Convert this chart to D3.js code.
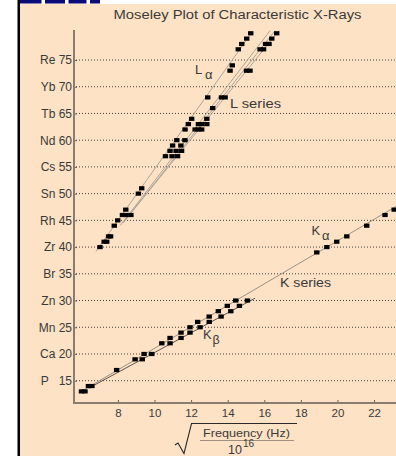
<!DOCTYPE html>
<html><head><meta charset="utf-8">
<script src="https://cdn.jsdelivr.net/npm/d3@7"></script>
<style>body{margin:0;background:#fff} svg{display:block}</style>
</head><body><svg id="c" width="396" height="456"></svg>
<script>
// ---- data ----
const yTickValues   = [15,20,25,30,35,40,45,50,55,60,65,70,75];
const yTickElements = ["P\u00a0\u00a0","Ca","Mn","Zn","Br","Zr","Rh","Sn","Cs","Nd","Tb","Yb","Re"];
const xTickValues   = [8,10,12,14,16,18,20,22];

const kAlphaZ = [13,14,17,19,20,22,23,24,25,26,27,28,29,30,39,40,41,42,44,46,47];
const kAlphaV = [6.01,6.39,7.93,8.94,9.43,10.40,10.85,11.45,11.94,12.36,12.99,13.49,13.98,14.44,18.87,19.42,19.96,20.51,21.6,22.6,23.1];
const kBetaZ  = [13,14,19,20,22,23,24,25,26,27,28,29,30];
const kBetaV  = [6.20,6.58,9.33,9.85,10.85,11.45,11.94,12.49,12.99,13.64,14.17,14.64,15.08];

const lAlphaZ = [40,41,42,44,45,46,47,50,51,57,58,59,60,62,63,64,68,73,74,77,78,79,80];
const lAlphaV = [7.02,7.25,7.49,7.80,7.99,8.25,8.43,9.12,9.30,10.60,10.85,10.99,11.22,11.67,11.85,12.03,12.91,14.13,14.25,14.58,14.77,15.04,15.26];
const lOtherZ = [41,42,46,46,57,57,58,58,59,60,62,62,62,63,63,63,64,66,68,68,73,73,77,77,78,78,79,80];
const lOtherV = [7.39,7.60,8.44,8.71,10.96,11.26,11.18,11.48,11.44,11.66,12.22,12.40,12.58,12.40,12.58,12.86,12.86,13.18,13.66,13.86,15.03,15.22,15.77,15.96,16.07,16.26,16.41,16.68];

// fitted lines (start/end in data units): K-alpha, K-beta, L-alpha, L-beta lines
const fitV0 = [6.10, 6.40, 6.80, 8.12, 8.28, 8.39];
const fitZ0 = [13.2, 13.6, 39.2, 44.0, 44.5, 45.0];
const fitV1 = [23.2, 15.5, 15.33, 16.32, 16.59, 16.81];
const fitZ1 = [47.6, 30.45, 80.2, 80.5, 80.5, 80.5];
const fitColors = ["#8f8880","#4a4540","#a59e96","#a59e96","#a59e96","#a59e96"];

// ---- drawing ----
const svg = d3.select("#c");
const FONT = "'Liberation Sans', Arial, Helvetica, sans-serif";
const TXT = "#3a3a3a";

// page frame
svg.append("rect").attr("x",0).attr("y",0).attr("width",396).attr("height",456).attr("fill","#fff");
svg.append("rect").attr("x",20).attr("y",4).attr("width",376).attr("height",452).attr("fill","#fde2c5");
svg.append("rect").attr("x",17.5).attr("y",0).attr("width",2.5).attr("height",456).attr("fill","#000");
[[20,21.5],[45,20],[68.5,18],[90,10]].forEach(([x0,w])=>{
  svg.append("rect").attr("x",x0).attr("y",0).attr("width",w).attr("height",3.5).attr("fill","#0a0a78");
});

const x = d3.scaleLinear().domain([5.6, 23.2]).range([74, 396]);
const y = d3.scaleLinear().domain([15, 75]).range([380.7, 60]);

// title
svg.append("text").attr("x",113.5).attr("y",19).attr("font-family",FONT).attr("font-size",12.5)
  .attr("fill",TXT).attr("textLength",248).attr("lengthAdjust","spacingAndGlyphs")
  .text("Moseley Plot of Characteristic X-Rays");

// grid lines
svg.append("g").selectAll("line").data(yTickValues).join("line")
  .attr("x1",76).attr("x2",396).attr("y1",d=>y(d)).attr("y2",d=>y(d))
  .attr("stroke","#4a423a").attr("stroke-width",1).attr("stroke-dasharray","1,2");

// y axis
const yAxis = d3.axisLeft(y).tickValues(yTickValues).tickSize(-3).tickPadding(2)
  .tickFormat((d,i)=>yTickElements[i]+" "+d);
const gy = svg.append("g").attr("transform","translate(74,0)").call(yAxis);
gy.select(".domain").remove();
gy.selectAll(".tick line").attr("stroke","#6a6058");
gy.selectAll("text").attr("font-family",FONT).attr("font-size",12).attr("fill",TXT);

// x axis
const xAxis = d3.axisBottom(x).tickValues(xTickValues).tickSize(-3).tickPadding(5.5);
const gx = svg.append("g").attr("transform","translate(0,403)").call(xAxis);
gx.select(".domain").remove();
gx.selectAll(".tick line").attr("stroke","#6a6058");
gx.selectAll("text").attr("font-family",FONT).attr("font-size",11.5).attr("fill",TXT);

// axis lines
svg.append("path").attr("d",`M${x(5.6)},30V${403}H396`).attr("fill","none")
  .attr("stroke","#8a7c6e").attr("stroke-width",2);

// fit lines
svg.append("g").selectAll("line").data(fitV0).join("line")
  .attr("x1",(d,i)=>x(fitV0[i])).attr("y1",(d,i)=>y(fitZ0[i]))
  .attr("x2",(d,i)=>x(fitV1[i])).attr("y2",(d,i)=>y(fitZ1[i]))
  .attr("stroke",(d,i)=>fitColors[i]).attr("stroke-width",0.9);

// points
function pts(zs, vs){
  svg.append("g").selectAll("rect").data(zs).join("rect")
    .attr("x",(d,i)=>x(vs[i])-2.7).attr("y",d=>y(d)-2.1)
    .attr("width",5.4).attr("height",4.2).attr("fill","#000");
}
pts(kAlphaZ,kAlphaV); pts(kBetaZ,kBetaV); pts(lAlphaZ,lAlphaV); pts(lOtherZ,lOtherV);

// annotations
function lab(tx,ty,s,fs,tl){
  const t = svg.append("text").attr("x",tx).attr("y",ty).attr("font-family",FONT)
    .attr("font-size",fs).attr("fill",TXT).text(s);
  if(tl){ t.attr("textLength",tl).attr("lengthAdjust","spacingAndGlyphs"); }
  return t;
}
lab(195,74,"L",13); lab(205,78.5,"\u03b1",13);
lab(230,108,"L series",12.5,51);
lab(311.5,235,"K",13); lab(322,239.5,"\u03b1",13);
lab(280,287,"K series",12.5,51);
lab(203,338.5,"K",13); lab(212.5,343.5,"\u03b2",12.5);

// x-axis label: sqrt(Frequency (Hz) / 10^16)
svg.append("path").attr("d","M175,445L178,443L184,453.5L191.5,423.5H297")
  .attr("fill","none").attr("stroke","#2a2a2a").attr("stroke-width",1.1);
lab(203,436.5,"Frequency (Hz)",11.5,87);
svg.append("line").attr("x1",200).attr("x2",294).attr("y1",440.5).attr("y2",440.5)
  .attr("stroke","#8a7c6e").attr("stroke-width",0.8);
lab(228,453.5,"10",12.5);
lab(243,447,"16",10);
</script>
</body></html>
